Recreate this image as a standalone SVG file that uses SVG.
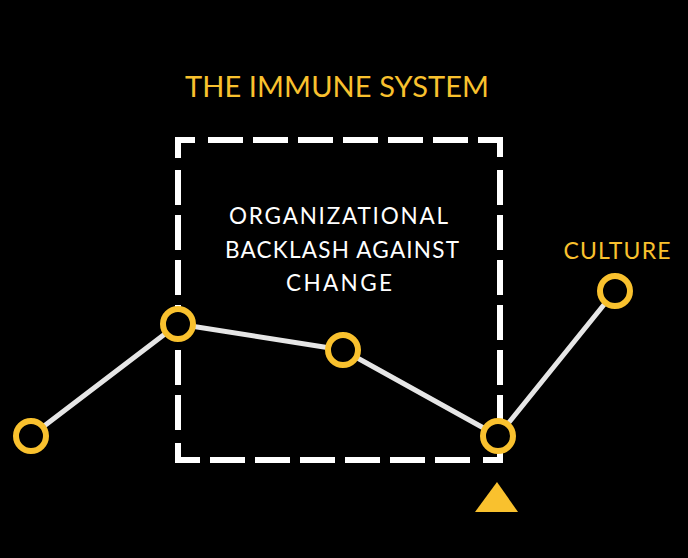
<svg xmlns="http://www.w3.org/2000/svg" width="688" height="558" viewBox="0 0 688 558">
<style>
.t{font-family:Lato,"Open Sans","Liberation Sans",sans-serif;font-weight:400;text-anchor:middle}
.y{fill:#F9C12E}
.w{fill:#FFFFFF}
.edge{stroke:#E6E6E6;stroke-width:5;fill:none;stroke-linecap:round}
.node{fill:#000;stroke:#F9C12E;stroke-width:6}
.box{fill:none;stroke:#FFFFFF;stroke-width:6;stroke-dasharray:35 10}
</style>
<rect x="0" y="0" width="688" height="558" fill="#000"/>
<g id="title"><text class="t y" x="337" y="97" font-size="29" textLength="304" lengthAdjust="spacing">THE IMMUNE SYSTEM</text></g>
<g id="box">
<path class="box" d="M178 158 V140 H196"/>
<path class="box" d="M208 140 H482"/>
<path class="box" d="M482 140 H500 V158"/>
<path class="box" d="M500 170 V442"/>
<path class="box" d="M500 442 V460 H482"/>
<path class="box" d="M470 460 H196"/>
<path class="box" d="M196 460 H178 V442"/>
<path class="box" d="M178 430 V170"/>
<text class="t w" x="338.5" y="224" font-size="22.5" font-weight="300" textLength="219" lengthAdjust="spacing">ORGANIZATIONAL</text>
<text class="t w" x="342" y="258" font-size="22.5" font-weight="300" textLength="234" lengthAdjust="spacing">BACKLASH AGAINST</text>
<text class="t w" x="339" y="291" font-size="22.5" font-weight="300" textLength="106" lengthAdjust="spacing">CHANGE</text>
</g>
<g id="connectors">
<line class="edge" x1="31" y1="436" x2="178" y2="324"/>
<line class="edge" x1="178" y1="324" x2="343" y2="350"/>
<line class="edge" x1="343" y1="350" x2="498" y2="436"/>
<line class="edge" x1="498" y1="436" x2="615" y2="291"/>
</g>
<g id="n1"><circle class="node" cx="31" cy="436" r="15"/></g>
<g id="n2"><circle class="node" cx="178" cy="324" r="15"/></g>
<g id="n3"><circle class="node" cx="343" cy="350" r="15"/></g>
<g id="n4"><circle class="node" cx="498" cy="436" r="15"/></g>
<g id="n5"><circle class="node" cx="615" cy="291" r="15"/><text class="t y" x="617" y="259" font-size="23" textLength="107" lengthAdjust="spacing">CULTURE</text></g>
<g id="marker"><polygon points="497,482 475,512 518,512" fill="#F9C12E"/></g>
</svg>
